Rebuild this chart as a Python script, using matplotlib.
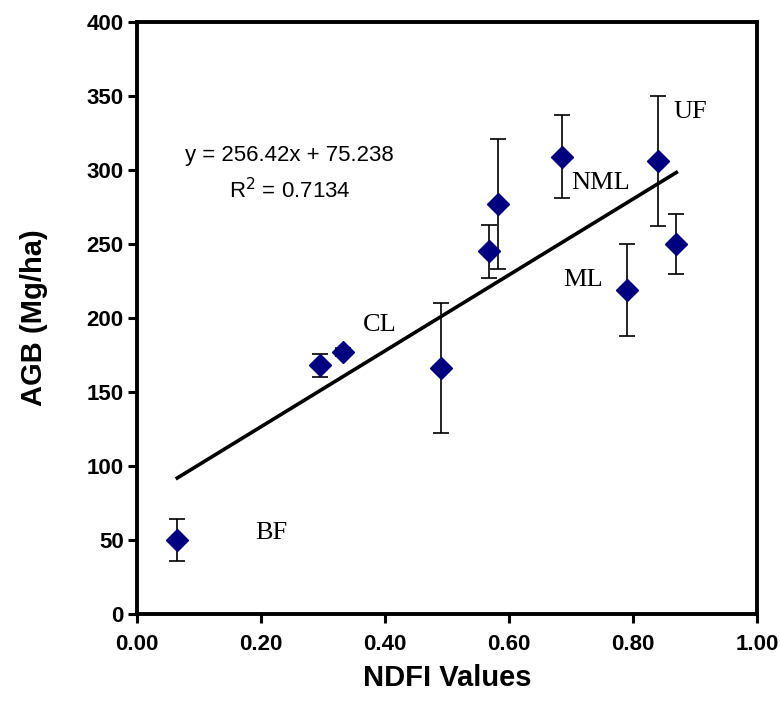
import matplotlib
matplotlib.use("Agg")
import matplotlib.pyplot as plt
import numpy as np

# Data
ndfi = [0.065, 0.295, 0.333, 0.490, 0.567, 0.583, 0.685, 0.790, 0.840, 0.870]
agb = [50, 168, 177, 166, 245, 277, 309, 219, 306, 250]
err = [14, 8, 3, 44, 18, 44, 28, 31, 44, 20]
slope, intercept = 256.42, 75.238
labels = ["BF", "CL", "NML", "ML", "UF"]
label_x = [0.19, 0.364, 0.700, 0.688, 0.866]
label_y = [55, 195, 291, 226, 339]
xticks = [0.0, 0.2, 0.4, 0.6, 0.8, 1.0]
yticks = list(range(0, 401, 50))

fig = plt.figure(figsize=(7.8, 7.18), dpi=100)
ax = fig.add_axes([0.1756, 0.1448, 0.7949, 0.8246])

ax.errorbar(ndfi, agb, yerr=err, fmt='none', ecolor='black', elinewidth=1.2,
            capsize=5.5, capthick=1.2, zorder=2)
ax.plot(ndfi, agb, linestyle='none', marker='D', markersize=11.5,
        color='#000080', zorder=3)

xl = np.array([min(ndfi), max(ndfi)])
ax.plot(xl, slope * xl + intercept, color='black', lw=2.6, zorder=2)

for t, x, y in zip(labels, label_x, label_y):
    ax.text(x, y, t, family='Liberation Serif', fontsize=19, ha='left', va='center')

ax.text(0.246, 310, "y = 256.42x + 75.238", family='Liberation Sans', fontsize=16,
        ha='center', va='center')
ax.text(0.246, 286, "R$^2$ = 0.7134", family='Liberation Sans', fontsize=16,
        ha='center', va='center')

ax.set_xlim(0, 1)
ax.set_ylim(0, 400)
ax.set_xticks(xticks)
ax.set_xticklabels([f"{v:.2f}" for v in xticks])
ax.set_yticks(yticks)
for lab in ax.get_xticklabels() + ax.get_yticklabels():
    lab.set_family('Liberation Sans')
    lab.set_fontweight('bold')
    lab.set_fontsize(16)
ax.tick_params(direction='out', length=6.5, width=2.2, pad=3)
ax.tick_params(axis='x', pad=8)
for s in ax.spines.values():
    s.set_linewidth(2.8)

ax.set_xlabel("NDFI Values", family='Liberation Sans', fontweight='bold', fontsize=21, labelpad=6)
ax.set_ylabel("AGB (Mg/ha)", family='Liberation Sans', fontweight='bold', fontsize=21, labelpad=28)

fig.savefig("out.png", dpi=100)
